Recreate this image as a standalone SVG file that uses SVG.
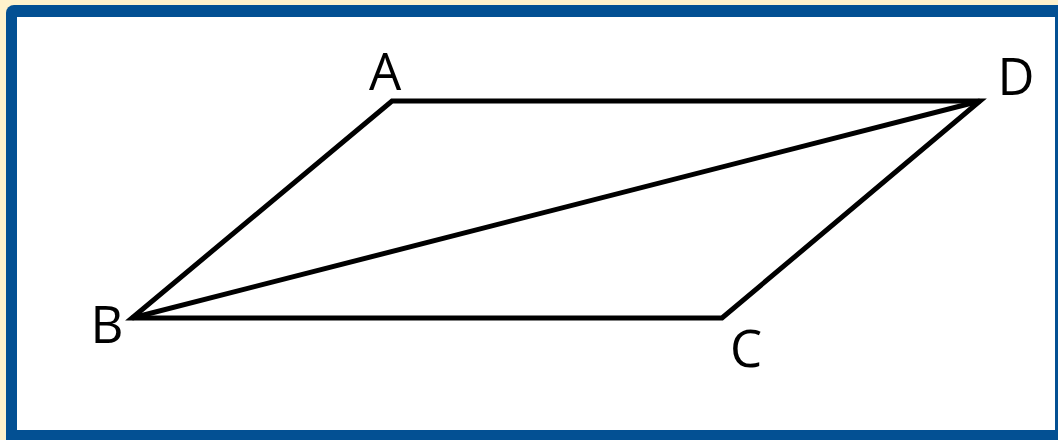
<svg xmlns="http://www.w3.org/2000/svg" width="1058" height="440" viewBox="0 0 1058 440">
<style>
.lbl{font-family:"Open Sans","Noto Sans","DejaVu Sans",sans-serif;font-size:51px;fill:#000;text-anchor:middle}
.edge{stroke:#000;stroke-width:5;fill:none;stroke-linejoin:miter;stroke-linecap:butt}
</style>
<rect x="0" y="0" width="1058" height="440" fill="#FFF2CC"/>
<rect x="6" y="5" width="1070" height="450" rx="8" fill="#035093"/>
<rect x="17" y="17" width="1038" height="413" fill="#FFFFFF"/>
<g id="connectors">
<path class="edge" d="M392,101 L980,101 L722,318 L132,318 Z"/>
<path class="edge" d="M132,318 L980,101"/>
</g>
<g id="A"><text class="lbl" x="385" y="90">A</text></g>
<g id="D"><text class="lbl" x="1016" y="95">D</text></g>
<g id="B"><text class="lbl" x="107" y="343">B</text></g>
<g id="C"><text class="lbl" x="746" y="367">C</text></g>
</svg>
